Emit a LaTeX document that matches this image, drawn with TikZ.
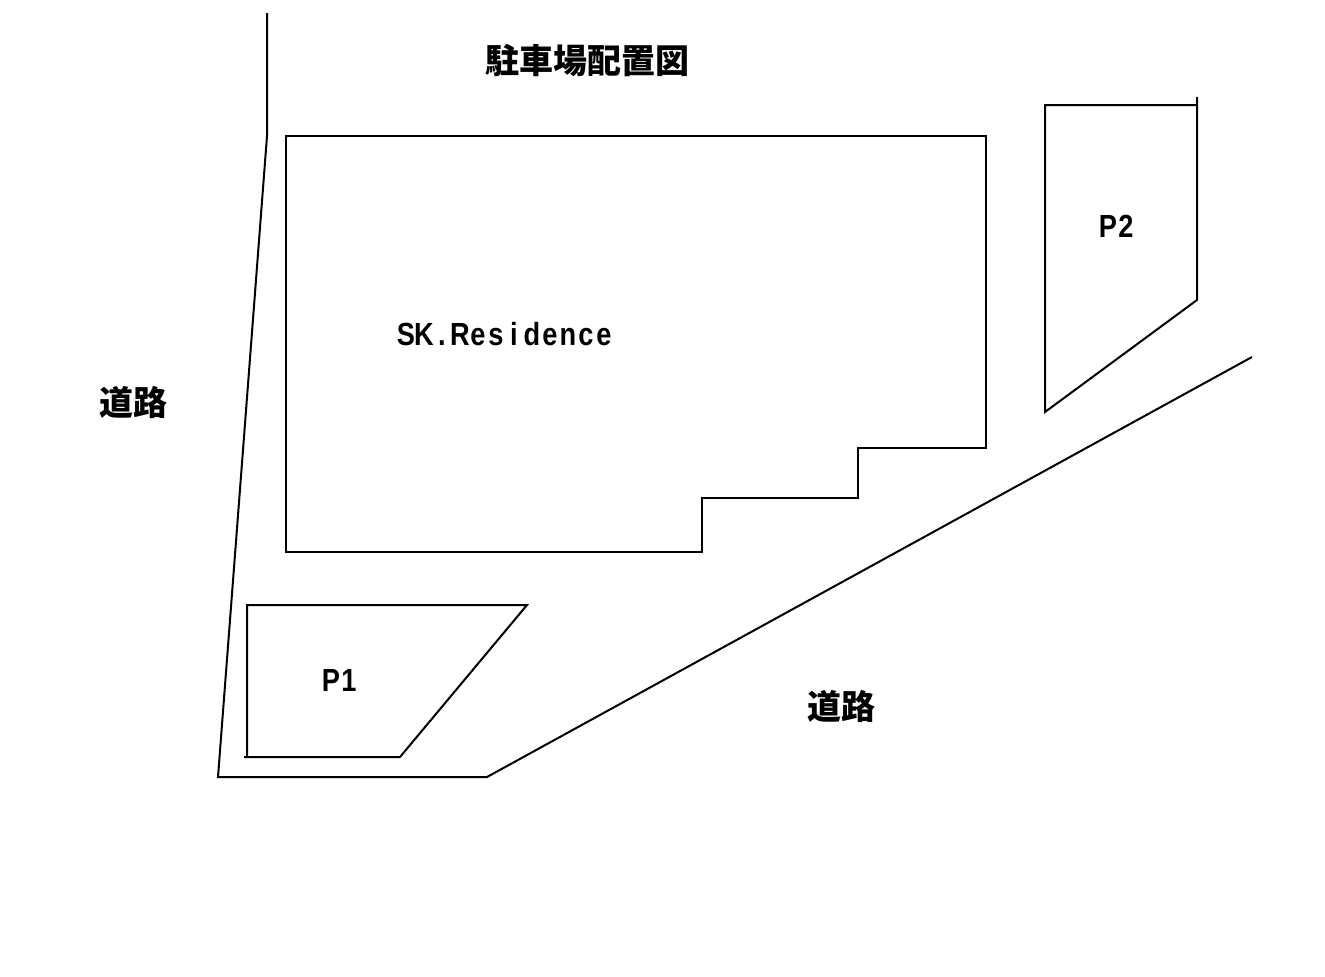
\documentclass[tikz,border=0pt]{standalone}
\usepackage{fontspec}
\setmainfont{Liberation Sans}[FakeStretch=0.85]
\newfontfamily\cjk{Noto Sans CJK JP}
\newcommand{\hw}[1]{\makebox[18pt]{#1}}
\begin{document}
\begin{tikzpicture}[x=1pt,y=-1pt,line width=2pt,font=\bfseries]
        \useasboundingbox (0,0) rectangle (1325,977);
        \node at (587,60.5) (title) {\cjk\fontsize{34}{36}\selectfont 駐車場配置図};
        \node at (505,334) (house) {\fontsize{32}{36}\selectfont \hw{S}\hw{K}\hw{.}\hw{R}\hw{e}\hw{s}\hw{i}\hw{d}\hw{e}\hw{n}\hw{c}\hw{e}};
        \node at (133,402.5) (roadA) {\cjk\fontsize{34}{36}\selectfont 道路};
        \node at (841,706.5) (roadB) {\cjk\fontsize{34}{36}\selectfont 道路};
        \node at (340,680) (P1) {\fontsize{32}{36}\selectfont \hw{P}\hw{1}};
        \node at (1117,226) (P2) {\fontsize{32}{36}\selectfont \hw{P}\hw{2}};
        
        \draw (286,136) -- (986,136) -- (986,448) -- (858,448) -- (858,498) -- (702,498) -- (702,552) -- (286,552) -- cycle;
        \draw (247,757) -- (247,605) -- (527,605) -- (400,757) -- (244,757);
        \draw (1197,97) -- (1197,300) -- (1045,412) -- (1045,105) -- (1197,105);
        \draw (267,13) -- (267,136) -- (218,777) -- (487,777) -- (1252,357);
        
    \end{tikzpicture}
\end{document}
